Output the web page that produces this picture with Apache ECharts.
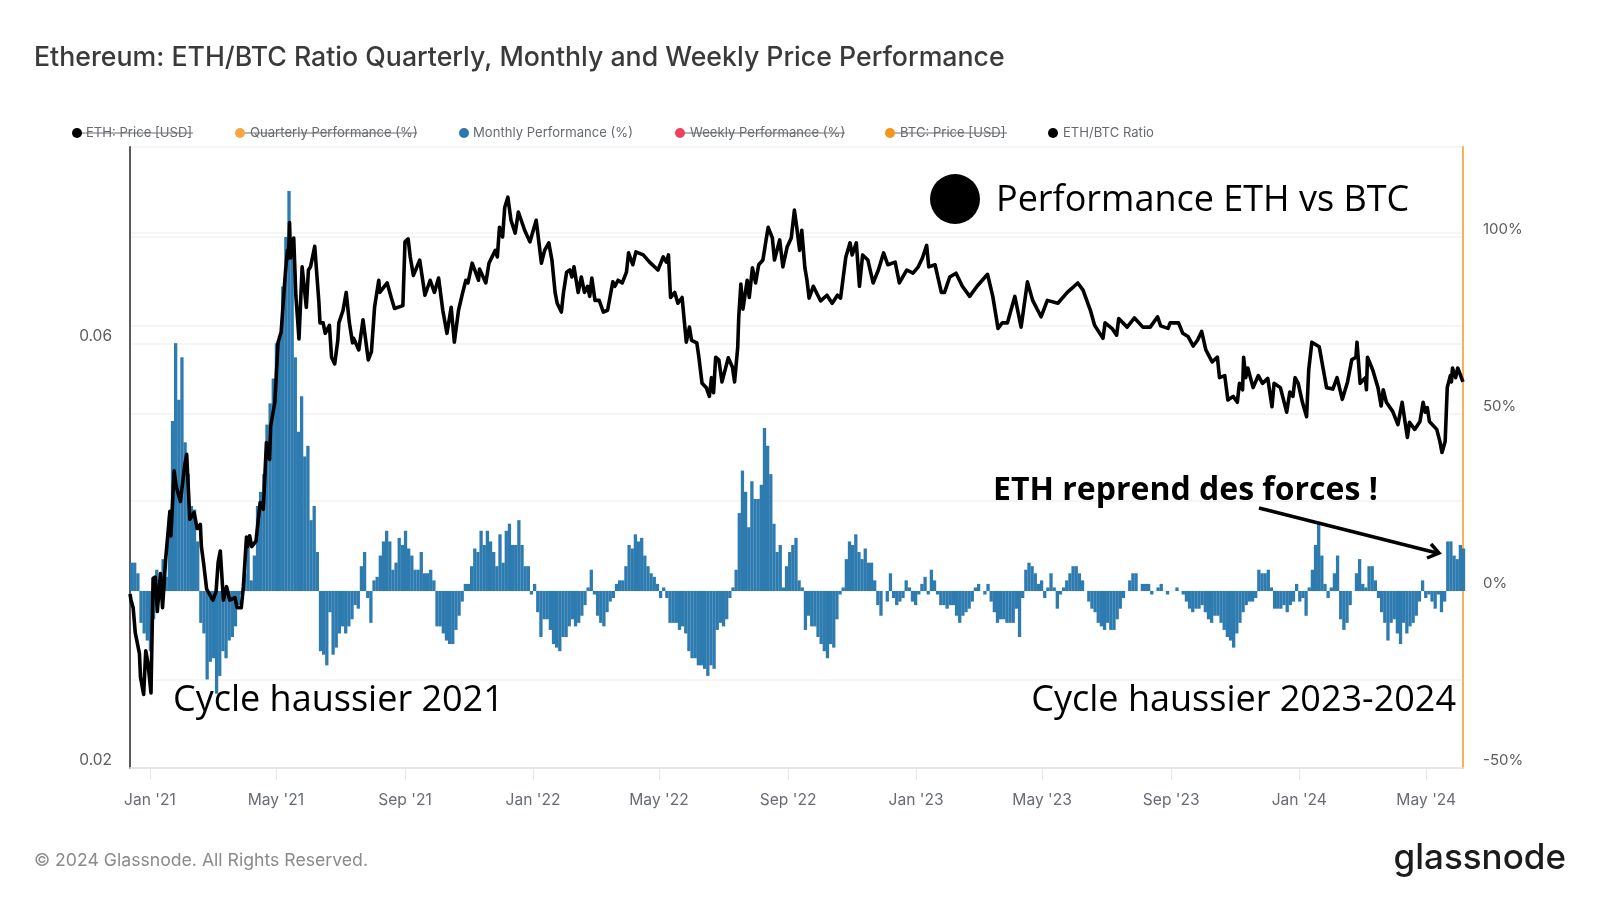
<!DOCTYPE html>
<html><head><meta charset="utf-8">
<style>html,body{margin:0;padding:0;background:#fff}#c{width:1600px;height:900px}</style>
<script src="https://cdn.jsdelivr.net/npm/echarts@6/dist/echarts.min.js"></script>
</head><body><div id="c"></div>
<script>
const chartTitle = "Ethereum: ETH/BTC Ratio Quarterly, Monthly and Weekly Price Performance";
const startDate = Date.UTC(2020, 11, 13);
const endDate = Date.UTC(2024, 5, 5);
const tickMonths = [[2021,0],[2021,4],[2021,8],[2022,0],[2022,4],[2022,8],[2023,0],[2023,4],[2023,8],[2024,0],[2024,4]];
const monthNames = ["Jan","Feb","Mar","Apr","May","Jun","Jul","Aug","Sep","Oct","Nov","Dec"];

// Monthly performance (%), one reading every 3 days from mid-December 2020
const monthlyPerf = [
8,8,5,-9,-12,-14,-17,-8,6,1,
9,4,21,48,70,54,66,42,33,24,
23,14,-9,-12,-25,-20,-19,-29,-24,-17,
-19,-14,-13,-10,-4,-1,5,14,3,10,
24,28,33,47,53,60,70,72,86,100,
113,98,66,45,55,38,41,20,24,11,
-17,-18,-21,-6,-18,-16,-12,-10,-12,-10,
-8,-4,-5,7,11,-2,-9,3,4,10,
14,17,14,6,8,15,13,17,12,10,
6,6,11,5,5,6,3,-10,-10,-12,
-14,-15,-15,-11,-7,-3,2,2,7,12,
11,17,13,17,14,11,7,16,8,17,
19,13,13,20,13,7,7,-1,2,-6,
-13,-8,-8,-11,-15,-16,-17,-13,-13,-10,
-8,-10,-9,-7,-4,1,6,-1,-7,-9,
-10,-6,-3,-2,2,3,3,7,13,12,
16,14,15,10,7,5,4,2,-2,1,
-2,-9,-9,-9,-11,-10,-12,-17,-19,-19,
-21,-21,-22,-24,-21,-22,-11,-9,-10,-8,
-2,1,6,22,34,28,18,31,26,26,
30,46,41,33,19,11,13,1,7,11,
13,15,3,1,-11,-7,-10,-10,-13,-15,
-17,-19,-15,-16,-8,-1,1,9,14,13,
16,11,9,12,8,8,3,-4,-7,0,
-3,5,-2,-4,-3,-2,3,1,-3,-4,
-1,2,4,-1,6,3,-1,-4,-4,-5,
-4,-4,-7,-9,-7,-6,-5,-3,1,2,
0,-1,2,-3,-6,-9,-8,-8,-9,-9,
-9,-5,-13,-2,6,8,7,5,2,3,
-2,1,5,1,-5,-1,1,3,5,7,
7,5,3,0,-3,-5,-6,-9,-10,-11,
-9,-11,-11,-8,-5,-2,0,3,5,5,
0,2,2,2,-1,0,1,2,0,-1,
0,0,1,0,-1,-3,-5,-6,-5,-5,
-4,-6,-8,-9,-7,-7,-9,-11,-13,-14,
-16,-12,-9,-6,-4,-3,-3,-2,6,5,
5,6,1,-5,-5,-5,-4,-6,-4,-3,
2,-3,-2,-7,1,6,13,19,10,2,
-2,1,5,10,-8,-11,-9,-4,0,5,
9,2,1,7,7,3,-2,-6,-9,-14,
-9,-8,-12,-15,-9,-12,-10,-9,-7,-3,
3,-2,-1,-3,-5,-1,-6,-3,14,14,
10,9,13,12];

// ETH/BTC ratio: days since 13 Dec 2020, with the value read at that day
const ratioDays = [0,1,3,5,9,10,13,15,17,20,22,24,26,29,31,34,38,39,42,44,48,52,54,57,61,64,67,68,70,73,79,82,84,86,89,92,95,100,102,106,108,111,112,114,116,120,124,127,130,133,134,138,141,144,148,150,151,152,153,156,158,161,164,168,170,172,176,180,181,184,186,190,192,195,198,199,203,206,209,212,213,218,222,227,230,233,237,238,245,249,252,260,262,265,267,270,276,281,286,290,294,298,302,306,309,313,317,320,322,326,332,333,339,342,348,350,352,355,357,360,363,367,370,376,381,387,392,395,399,402,405,407,411,413,416,419,421,423,427,430,433,436,438,440,443,447,451,455,460,462,465,469,473,475,479,482,489,495,503,508,511,513,515,519,522,526,530,533,535,540,542,545,549,552,554,556,558,561,564,570,574,576,579,580,582,584,588,590,593,596,599,603,606,608,612,614,619,622,626,630,633,635,638,640,643,645,647,651,658,664,669,674,677,682,686,688,692,695,698,703,708,713,718,722,729,733,740,746,751,755,759,761,767,773,776,781,787,793,800,807,817,822,827,831,836,843,849,855,860,868,874,884,893,903,908,915,919,927,929,936,940,942,950,957,965,972,979,982,989,991,999,1003,1008,1013,1017,1021,1025,1031,1036,1038,1043,1046,1051,1055,1057,1060,1061,1063,1065,1070,1075,1079,1084,1088,1090,1096,1102,1105,1108,1110,1113,1117,1121,1123,1126,1133,1137,1140,1146,1150,1155,1160,1164,1168,1169,1172,1177,1178,1179,1184,1189,1192,1194,1197,1203,1208,1212,1217,1219,1224,1229,1232,1234,1236,1238,1245,1248,1250,1253,1255,1258,1259,1260,1263,1265,1270];
const ratioValues = [.0314,.0309,.0303,.0284,.0269,.0253,.0242,.0271,.0263,.0243,.0327,.0328,.0300,.0331,.0303,.0344,.0389,.0365,.0432,.0415,.0399,.0437,.0451,.0381,.0388,.0372,.0376,.0355,.0341,.0318,.0309,.0316,.0341,.0351,.0309,.0320,.0309,.0311,.0303,.0303,.0320,.0364,.0355,.0365,.0355,.0360,.0398,.0391,.0465,.0445,.0485,.0516,.0602,.0619,.0721,.0765,.0750,.0822,.0750,.0790,.0681,.0608,.0733,.0660,.0727,.0733,.0773,.0668,.0634,.0634,.0617,.0630,.0580,.0570,.0606,.0634,.0655,.0686,.0634,.0602,.0609,.0591,.0639,.0576,.0588,.0660,.0708,.0686,.0703,.0676,.0658,.0663,.0782,.0788,.0752,.0717,.0746,.0681,.0708,.0686,.0712,.0655,.0617,.0660,.0603,.0655,.0686,.0708,.0703,.0740,.0708,.0729,.0703,.0740,.0765,.0752,.0812,.0792,.0855,.0878,.0827,.0800,.0845,.0806,.0782,.0827,.0740,.0765,.0780,.0746,.0686,.0667,.0652,.0686,.0723,.0727,.0714,.0733,.0686,.0714,.0686,.0697,.0679,.0712,.0672,.0672,.0652,.0655,.0705,.0697,.0708,.0703,.0723,.0760,.0737,.0762,.0756,.0742,.0727,.0752,.0742,.0756,.0677,.0686,.0667,.0677,.0603,.0627,.0606,.0602,.0580,.0542,.0536,.0524,.0550,.0529,.0580,.0576,.0544,.0579,.0565,.0544,.0595,.0644,.0701,.0657,.0708,.0677,.0731,.0703,.0737,.0746,.0786,.0812,.0790,.0746,.0786,.0733,.0771,.0790,.0849,.0816,.0765,.0806,.0731,.0708,.0676,.0697,.0671,.0681,.0667,.0681,.0676,.0752,.0780,.0756,.0780,.0697,.0756,.0746,.0703,.0727,.0760,.0737,.0742,.0703,.0727,.0721,.0733,.0750,.0775,.0733,.0737,.0686,.0686,.0714,.0721,.0697,.0679,.0697,.0719,.0679,.0625,.0634,.0634,.0679,.0627,.0705,.0672,.0644,.0672,.0667,.0686,.0703,.0690,.0655,.0630,.0609,.0634,.0624,.0614,.0641,.0627,.0642,.0627,.0627,.0644,.0629,.0625,.0634,.0634,.0617,.0612,.0597,.0606,.0620,.0591,.0573,.0580,.0550,.0553,.0519,.0524,.0516,.0542,.0533,.0580,.0550,.0564,.0536,.0553,.0542,.0549,.0510,.0542,.0536,.0503,.0530,.0524,.0550,.0542,.0516,.0497,.0561,.0603,.0596,.0561,.0536,.0534,.0550,.0520,.0544,.0576,.0580,.0603,.0542,.0550,.0533,.0580,.0561,.0536,.0511,.0533,.0516,.0504,.0487,.0516,.0471,.0490,.0481,.0491,.0516,.0503,.0509,.0491,.0481,.0466,.0453,.0466,.0536,.0553,.0544,.0564,.0550,.0564,.0544];

const leftLabelTicks = [0.02, 0.06];
const leftGridTicks = [0.02, 0.04, 0.06, 0.08, 0.1];
const rightLabelTicks = [-50, 0, 50, 100];
const rightGridTicks = [-50, -25, 0, 50, 75, 100];

const DAY = 86400000;
const dayOf = t => (t - startDate) / DAY;
const monthlySeries = monthlyPerf.map((v, i) => [1.5 + 3 * i, v]);
const ratioSeries = ratioDays.map((d, i) => [d, ratioValues[i]]);
const tickDays = tickMonths.map(m => dayOf(Date.UTC(m[0], m[1], 1)));

const legendFont = '13.1px Inter';
const legendItems = [
  {name: 'ETH: Price [USD]', color: '#000000', cx: 77, tx: 86, end: 193, off: true},
  {name: 'Quarterly Performance (%)', color: '#f7a540', cx: 240, tx: 250, end: 417, off: true},
  {name: 'Monthly Performance (%)', color: '#2b78b0', cx: 464, tx: 473, end: 633, off: false},
  {name: 'Weekly Performance (%)', color: '#f0405f', cx: 680, tx: 690, end: 845, off: true},
  {name: 'BTC: Price [USD]', color: '#f7931a', cx: 890, tx: 900, end: 1007, off: true},
  {name: 'ETH/BTC Ratio', color: '#000000', cx: 1053, tx: 1063, end: 1157, off: false}
];
const legendGraphic = [];
legendItems.forEach(it => {
  if (it.off) legendGraphic.push({type:'line', z:50, shape:{x1:it.cx-4,y1:133,x2:it.end,y2:133}, style:{stroke:'#6f6f6f',lineWidth:1}});
  legendGraphic.push({type:'circle', z:51, shape:{cx:it.cx,cy:133,r:5}, style:{fill:it.color}});
  legendGraphic.push({type:'text', z:51, x:it.tx, y:133, style:{text:it.name,font:legendFont,fill:'#666a70',verticalAlign:'middle',textAlign:'left'}});
});

const annoFont = '36px "Open Sans"';
const chart = echarts.init(document.getElementById('c'), null, {renderer:'canvas'});
chart.setOption({
  animation: false,
  backgroundColor: '#ffffff',
  textStyle: {fontFamily: 'Inter'},
  grid: {left: 130, right: 137, top: 147, bottom: 132, containLabel: false},
  xAxis: {
    type: 'value', min: 0, max: dayOf(endDate),
    axisLine: {show: true, onZero: false, lineStyle: {color: '#e4e4e4', width: 1.5}},
    axisTick: {show: true, length: 12, lineStyle: {color: '#e8e8e8'}, customValues: tickDays},
    axisLabel: {
      color: '#666b75', fontSize: 15.6, fontFamily: 'Inter', margin: 24, hideOverlap: false,
      customValues: tickDays,
      formatter: v => { const d = new Date(startDate + v * DAY); return monthNames[d.getUTCMonth()] + " '" + String(d.getUTCFullYear()).slice(2); }
    },
    splitLine: {show: false}
  },
  yAxis: [
    {
      type: 'log', logBase: 10, min: 0.02, max: 0.1, position: 'left',
      axisLine: {show: true, lineStyle: {color: '#5a5a5a', width: 2}},
      axisTick: {show: false, customValues: leftGridTicks},
      axisLabel: {color: '#5c5c5c', fontSize: 15.5, fontFamily: 'Inter', margin: 18, verticalAlign: 'bottom', customValues: leftLabelTicks, formatter: v => (+v).toFixed(2)},
      splitLine: {show: true, lineStyle: {color: '#f2f2f2', width: 1.5}}
    },
    {
      type: 'value', min: -50, max: 125.4, position: 'right',
      axisLine: {show: true, lineStyle: {color: '#f5b25a', width: 2}},
      axisTick: {show: false, customValues: rightGridTicks},
      axisLabel: {color: '#5c5c5c', fontSize: 15, fontFamily: 'Inter', margin: 20, verticalAlign: 'bottom', customValues: rightLabelTicks, formatter: v => v + '%'},
      splitLine: {show: true, lineStyle: {color: '#f2f2f2', width: 1.5}}
    }
  ],
  series: [
    {name: 'Monthly Performance (%)', type: 'bar', yAxisIndex: 1, data: monthlySeries, barWidth: 3.3,
     itemStyle: {color: '#2e7bb0'}, silent: true},
    {name: 'ETH/BTC Ratio', type: 'line', yAxisIndex: 0, data: ratioSeries, showSymbol: false, z: 5,
     lineStyle: {color: '#000000', width: 3.6, join: 'round'}, silent: true}
  ],
  graphic: [
    {type:'text', z:60, x:34, y:58, style:{text:chartTitle, font:'500 26.7px Inter', fill:'#3a3a3a', verticalAlign:'middle'}},
    ...legendGraphic,
    {type:'circle', z:60, shape:{cx:955,cy:199,r:25}, style:{fill:'#000'}},
    {type:'text', z:60, x:996, y:201, style:{text:'Performance ETH vs BTC', font:annoFont, fill:'#000', verticalAlign:'middle'}},
    {type:'text', z:60, x:173, y:701, style:{text:'Cycle haussier 2021', font:annoFont, fill:'#000', verticalAlign:'middle'}},
    {type:'text', z:60, x:1456, y:701, style:{text:'Cycle haussier 2023-2024', font:annoFont, fill:'#000', verticalAlign:'middle', textAlign:'right'}},
    {type:'text', z:60, x:993, y:491, style:{text:'ETH reprend des forces !', font:'700 32px "Open Sans"', fill:'#000', verticalAlign:'middle'}},
    {type:'line', z:60, shape:{x1:1259,y1:508,x2:1437,y2:553}, style:{stroke:'#000',lineWidth:3.5}},
    {type:'polyline', z:60, shape:{points:[[1431,544],[1439,553],[1427,558]]}, style:{stroke:'#000',fill:null,lineWidth:3.5}},
    {type:'text', z:60, x:34, y:861, style:{text:'© 2024 Glassnode. All Rights Reserved.', font:'17.65px Inter', fill:'#8a8a8a', verticalAlign:'middle'}},
    {type:'text', z:60, x:1566, y:858, style:{text:'glassnode', font:'500 35px Inter', fill:'#1c1c1c', verticalAlign:'middle', textAlign:'right'}}
  ]
});
</script></body></html>
